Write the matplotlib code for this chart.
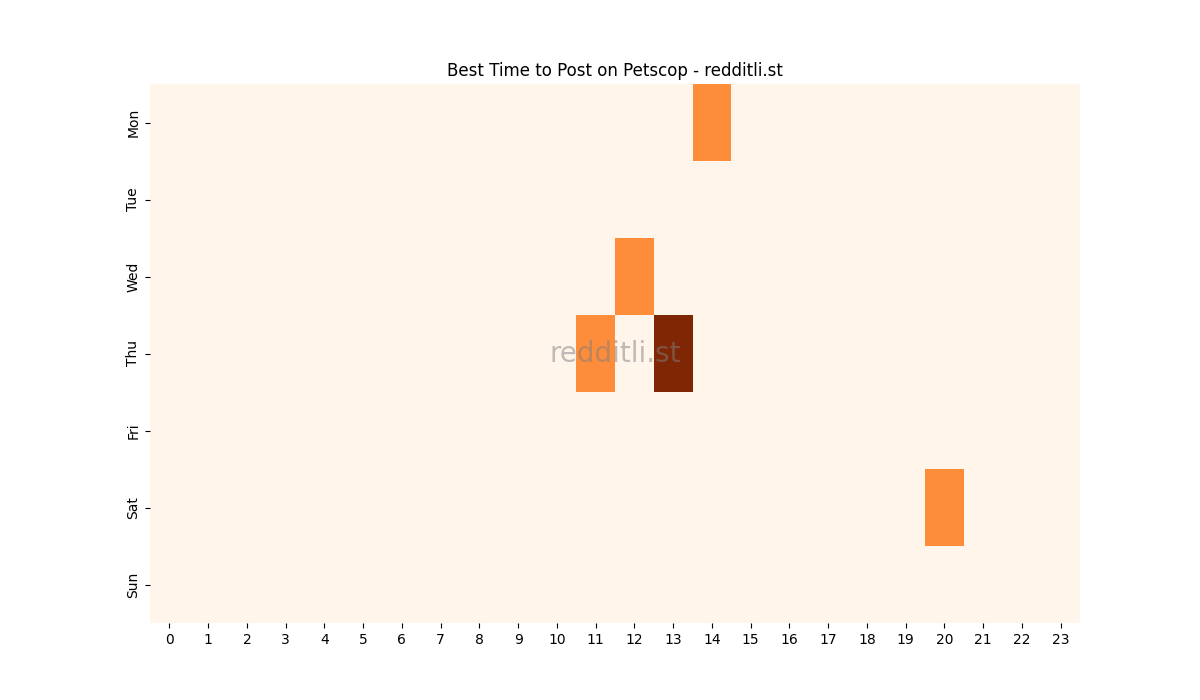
import matplotlib
matplotlib.use("Agg")
import matplotlib.pyplot as plt
import numpy as np
import pandas as pd
import seaborn as sns

days = ["Mon", "Tue", "Wed", "Thu", "Fri", "Sat", "Sun"]
hours = list(range(24))
# number of top posts per (day, hour)
mon = [0]*14 + [1] + [0]*9
tue = [0]*24
wed = [0]*12 + [1] + [0]*11
thu = [0]*11 + [1, 0, 2] + [0]*10
fri = [0]*24
sat = [0]*20 + [1] + [0]*3
sun = [0]*24

df = pd.DataFrame([mon, tue, wed, thu, fri, sat, sun], index=days, columns=hours)

fig, ax = plt.subplots(figsize=(12, 7), dpi=100)
sns.heatmap(df, cmap="Oranges", cbar=False, ax=ax)
ax.set_title("Best Time to Post on Petscop - redditli.st")
ax.text(0.5, 0.5, "redditli.st", transform=ax.transAxes, ha="center", va="center",
        fontsize=20, color="gray", alpha=0.5)
ax.tick_params(axis="x", rotation=0)

fig.savefig("out.png")
